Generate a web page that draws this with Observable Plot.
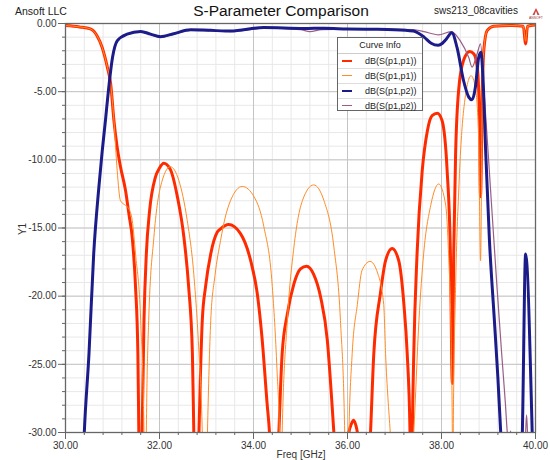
<!DOCTYPE html>
<html><head><meta charset="utf-8">
<script src="https://cdn.jsdelivr.net/npm/d3@7"></script>
<script src="https://cdn.jsdelivr.net/npm/@observablehq/plot@0.6"></script>
<style>
body{margin:0;background:#fff;font-family:Arial,"Liberation Sans",sans-serif;}
#wrap{position:relative;width:550px;height:460px;overflow:hidden;}
.abs{position:absolute;white-space:nowrap;color:#222;}
#legend{position:absolute;left:337px;top:37px;width:84px;height:72px;background:#fff;border:1px solid #666;font-size:9px;color:#222;}
#legend .hdr{height:15px;line-height:15px;text-align:center;border-bottom:1px solid #ccc;}
#legend .row{height:14px;line-height:14px;position:relative;border-bottom:1px solid #ddd;}
#legend .row:last-child{border-bottom:none;}
#legend .sw{position:absolute;left:4px;top:6px;width:10px;height:0;border-top-style:solid;}
#legend .lb{position:absolute;left:27px;top:0;}
</style></head>
<body><div id="wrap"></div>
<script>
// ---- data ----
const xMajor = [30, 32, 34, 36, 38, 40];
const xMinor = d3.range(30, 40.001, 0.4);
const yMajor = [0, -5, -10, -15, -20, -25, -30];
const yMinor = d3.range(-30, 0.001, 1);

const s11aF = [30.0,30.3,30.53,30.67,30.78,30.89,30.96,31.03,31.10,31.17,31.28,31.35,31.42,31.49,31.54,31.56,31.60,31.63,31.67,31.72,31.79,31.91,32.00,32.09,32.23,32.38,32.52,32.62,32.70,32.73,32.78,32.84,32.91,32.98,33.09,33.23,33.30,33.47,33.72,33.94,34.08,34.18,34.29,34.34,34.44,34.54,34.61,34.72,34.86,35.00,35.13,35.28,35.43,35.57,35.67,35.71,35.87,36.03,36.08,36.13,36.18,36.21,36.35,36.49,36.56,36.70,36.81,36.95,37.09,37.20,37.27,37.33,37.355,37.38,37.41,37.48,37.59,37.70,37.80,37.91,38.01,38.12,38.19,38.23,38.26,38.30,38.37,38.47,38.60,38.69,38.76,38.81,38.83,38.87,38.90,38.97,39.11,39.5,39.74,39.79,39.83,40.0];
const s11aV = [-0.15,-0.25,-0.4,-0.9,-1.76,-3.2,-4.4,-7.1,-9.1,-10.5,-12.3,-14.0,-15.7,-19.3,-24.2,-30,-40,-30,-21.8,-16.9,-13.7,-11.3,-10.6,-10.25,-10.7,-12.7,-15.7,-19.3,-24.2,-30,-40,-30,-21.8,-19.3,-16.9,-15.3,-15.06,-14.75,-15.4,-17.4,-19.8,-23.0,-27.9,-30,-40,-30,-24.2,-21.3,-19.1,-18.0,-17.8,-18.4,-20.1,-23.2,-27.9,-30,-40,-30,-29.4,-29.1,-29.5,-30,-40,-30,-24.2,-19.8,-17.4,-16.5,-17.4,-20.6,-24.2,-30,-40,-30,-24.2,-16.9,-10.8,-7.86,-6.76,-6.59,-7.1,-10.8,-16.9,-26.4,-16.9,-9.6,-4.7,-2.7,-2.05,-2.24,-3.2,-7.1,-12.7,-4.7,-1.98,-0.53,-0.2,-0.15,-0.2,-1.5,-0.2,-0.1];

const s11bF = [30.0,30.3,30.53,30.67,30.78,30.89,30.96,31.03,31.10,31.17,31.28,31.35,31.42,31.49,31.60,31.67,31.695,31.72,31.77,31.88,32.02,32.23,32.41,32.59,32.73,32.84,32.91,32.96,33.02,33.09,33.18,33.30,33.40,33.51,33.76,34.01,34.22,34.40,34.50,34.55,34.58,34.61,34.72,34.86,35.04,35.28,35.50,35.71,35.85,35.94,35.98,36.03,36.10,36.21,36.31,36.48,36.64,36.77,36.81,36.91,37.15,37.41,37.52,37.62,37.77,37.94,38.09,38.15,38.21,38.23,38.24,38.25,38.30,38.37,38.47,38.63,38.72,38.79,38.83,38.87,38.90,38.97,39.11,39.5,39.74,39.79,39.83,40.0];
const s11bV = [-0.15,-0.25,-0.4,-0.9,-1.76,-3.2,-4.4,-7.1,-10.8,-13.0,-13.35,-13.6,-14.45,-16.9,-21.8,-30,-40,-30,-21.8,-15.7,-12.0,-10.5,-11.5,-14.45,-18.4,-24.2,-30,-40,-30,-21.8,-18.5,-15.9,-14.2,-13.0,-11.95,-12.7,-14.9,-19.3,-25.4,-30,-40,-30,-21.8,-16.4,-13.0,-11.84,-13.0,-16.4,-21.8,-30,-40,-30,-24.2,-20.6,-18.1,-17.45,-18.3,-20.6,-24.2,-30,-40,-30,-21.8,-16.9,-13.35,-11.77,-13.35,-16.9,-24.2,-30,-40,-30,-19.3,-12.0,-6.4,-3.83,-4.7,-8.35,-17.4,-4.7,-1.98,-0.53,-0.2,-0.15,-0.2,-1.3,-0.2,-0.1];

const s21aF = [30.30,30.40,30.50,30.60,30.71,30.78,30.85,30.92,31.00,31.10,31.31,31.60,31.81,32.02,32.30,32.66,33.09,33.40,33.51,34.22,35.07,35.50,36.00,36.50,37.00,37.40,37.63,37.78,37.93,38.02,38.10,38.22,38.33,38.47,38.58,38.65,38.72,38.79,38.84,38.88,38.94,39.02,39.12,39.20,39.26,39.50,39.72,39.79,39.93,40.0];
const s21aV = [-40,-30,-24.2,-16.9,-12.0,-9.4,-7.1,-4.7,-2.5,-1.27,-0.78,-0.58,-0.78,-0.97,-0.75,-0.46,-0.5,-0.55,-0.55,-0.29,-0.36,-0.35,-0.4,-0.42,-0.45,-0.55,-1.0,-1.45,-1.6,-1.45,-1.15,-0.68,-1.76,-4.2,-5.4,-5.6,-4.7,-2.5,-2.1,-3.8,-9.4,-15.9,-21.5,-26.0,-30,-45,-30,-16.9,-30,-40];

const s21bF = [30.30,30.40,30.50,30.60,30.71,30.78,30.85,30.92,31.00,31.10,31.31,31.60,31.81,32.02,32.30,32.66,33.09,33.40,33.51,34.22,35.00,35.20,35.45,36.00,36.50,37.00,37.40,37.63,37.94,38.20,38.40,38.58,38.65,38.76,38.83,38.90,39.04,39.18,39.28,39.36,39.40,39.44,39.47,39.50,39.65,39.79,39.81,39.83,40.0];
const s21bV = [-40,-30,-24.0,-16.8,-12.0,-9.4,-7.0,-4.6,-2.45,-1.25,-0.8,-0.62,-0.82,-1.0,-0.78,-0.5,-0.55,-0.58,-0.6,-0.35,-0.45,-0.6,-0.45,-0.42,-0.42,-0.42,-0.45,-0.6,-0.83,-0.6,-1.27,-2.5,-3.2,-2.2,-1.5,-4.7,-12.0,-19.3,-24.2,-27.9,-30,-31,-29.9,-31,-45,-30,-28.7,-30,-40];

const seriesNames = ["dB(S(p1,p1))","dB(S(p1,p1))","dB(S(p1,p2))","dB(S(p1,p2))"];
const seriesColors = ["#ff2b00","#ff8c26","#1b1b8a","#9a5e86"];
const seriesWidths = [3,1,3,1.2];

const toRows = (F, V) => F.map((f, i) => ({f, db: V[i]}));
const data = [toRows(s11aF,s11aV), toRows(s11bF,s11bV), toRows(s21aF,s21aV), toRows(s21bF,s21bV)];
const fmt = d => d.toFixed(2);

const lineMark = k => Plot.line(data[k], {x:"f", y:"db", stroke: seriesColors[k], strokeWidth: seriesWidths[k], curve:"monotone-x", clip:true});

const chart = Plot.plot({
  width: 550, height: 460,
  marginLeft: 65, marginRight: 15, marginTop: 23, marginBottom: 28,
  x: {domain:[30,40]},
  y: {domain:[-30,0]},
  style: {fontFamily:"Arial, 'Liberation Sans', sans-serif", fontSize:"10px", color:"#333", background:"transparent"},
  marks: [
    Plot.gridX(xMinor, {stroke:"#e8e8e8", strokeOpacity:1}),
    Plot.gridY(yMinor, {stroke:"#e8e8e8", strokeOpacity:1}),
    Plot.gridX(xMajor, {stroke:"#c4c4c4", strokeOpacity:1}),
    Plot.gridY(yMajor, {stroke:"#c4c4c4", strokeOpacity:1}),
    Plot.axisX(xMinor, {tickSize:3, text:null, label:null, stroke:"#666"}),
    Plot.axisX(xMajor, {tickSize:7, tickPadding:2, tickFormat:fmt, label:null, stroke:"#666", fill:"#333"}),
    Plot.axisY(yMinor, {tickSize:3, text:null, label:null, stroke:"#666"}),
    Plot.axisY(yMajor, {tickSize:7, tickPadding:2, tickFormat:fmt, label:null, stroke:"#666", fill:"#333"}),
    lineMark(0), lineMark(1), lineMark(3), lineMark(2),
    Plot.frame({stroke:"#666", strokeWidth:1.3})
  ]
});

const wrap = document.getElementById("wrap");
chart.style.position = "absolute"; chart.style.left = "0"; chart.style.top = "0";
wrap.appendChild(chart);

function addText(txt, css){ const d=document.createElement("div"); d.className="abs"; d.textContent=txt; Object.assign(d.style, css); wrap.appendChild(d); return d; }
addText("Ansoft LLC", {left:"15px", top:"5px", fontSize:"10.5px"});
addText("S-Parameter Comparison", {left:"281px", top:"2px", fontSize:"15.5px", transform:"translateX(-50%)", color:"#111"});
addText("sws213_08cavities", {left:"434px", top:"5px", fontSize:"10px"});
addText("Freq [GHz]", {left:"301px", top:"449px", fontSize:"10px", transform:"translateX(-50%)", color:"#333"});
addText("Y1", {left:"22px", top:"229px", fontSize:"10px", transform:"translate(-50%,-50%) rotate(-90deg)", color:"#333"});

// tiny logo
const logo = document.createElementNS("http://www.w3.org/2000/svg","svg");
logo.setAttribute("width","14"); logo.setAttribute("height","14");
logo.style.position="absolute"; logo.style.left="529px"; logo.style.top="7px";
logo.innerHTML = '<path d="M7 1 L10.5 8 L3.5 8 Z" fill="#d04040"/><path d="M7 4 L8.5 8 L5.5 8 Z" fill="#fff"/><text x="7" y="12" font-size="3.4" text-anchor="middle" fill="#a03030" font-family="Arial">ANSOFT</text>';
wrap.appendChild(logo);

// legend
const lg = document.createElement("div"); lg.id="legend";
const hdr = document.createElement("div"); hdr.className="hdr"; hdr.textContent="Curve Info"; lg.appendChild(hdr);
seriesNames.forEach((n,i)=>{
  const r=document.createElement("div"); r.className="row";
  const sw=document.createElement("div"); sw.className="sw"; sw.style.borderTopColor=seriesColors[i]; sw.style.borderTopWidth=(i%2===0?2:1.5)+"px"; sw.style.left="4px"; sw.style.width="10px";
  const lb=document.createElement("div"); lb.className="lb"; lb.textContent=n;
  r.appendChild(sw); r.appendChild(lb); lg.appendChild(r);
});
wrap.appendChild(lg);
</script></body></html>
